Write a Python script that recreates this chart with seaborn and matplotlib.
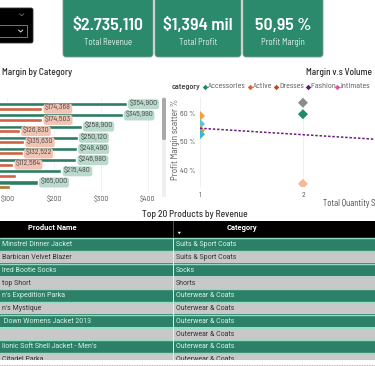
import matplotlib
matplotlib.use("Agg")
import matplotlib.pyplot as plt
import pandas as pd
import seaborn as sns
from matplotlib.patches import FancyBboxPatch, Rectangle, Polygon

W, H = 375, 366

# --- data -------------------------------------------------------------
kpi_values = ["$2.735,110", "$1,394 mil", "50,95 %"]
kpi_labels = ["Total Revenue", "Total Profit", "Profit Margin"]

# bar chart, values in $K (category names are cut off in the picture)
bar_categories = ["Outerwear & Coats", "Jeans", "Sweaters", "Suits & Sport Coats",
                  "Swim", "Sleep & Lounge", "Fashion Hoodies & Sweatshirts", "Shorts"]
revenue_k = [354.9, 345.99, 258.9, 250.12, 248.49, 246.98, 215.48, 165.0]
profit_k = [174.368, 174.503, 126.83, 135.63, 132.522, 112.564, 118.5, 106.0]
profit_label_shown = [True, True, True, True, True, True, False, False]
bar_ticks = [100, 200, 300, 400]

# scatter
scatter_categories = ["Outerwear & Coats", "Pants", "Plus", "Shorts",
                      "Maternity", "Accessories", "Skirts"]
scatter_qty = [1, 1, 1, 1, 2, 2, 2]
scatter_margin = [59.1, 56.3, 54.0, 52.7, 63.7, 59.7, 35.4]
trend_qty = [1, 3]
trend_margin = [54.8, 50.3]
legend_categories = ["Accessories", "Active", "Dresses",
                     "Fashion Hoodies & Sweatshirts", "Intimates"]
scatter_yticks = [40, 50, 60]
scatter_xticks = [1, 2]

# table (product names are clipped on the left in the picture)
table_products = ["Minstrel Dinner Jacket", "Barbican Velvet Blazer", "lred Bootie Socks",
                  "top Short", "n's Expedition Parka", "n's Mystique",
                  " Down Womens Jacket 2013", "", "lionic Soft Shell Jacket - Men's",
                  "Citadel Parka"]
table_categories = ["Suits & Sport Coats", "Suits & Sport Coats", "Socks", "Shorts",
                    "Outerwear & Coats", "Outerwear & Coats", "Outerwear & Coats",
                    "Outerwear & Coats", "Outerwear & Coats", "Outerwear & Coats"]

# --- style ------------------------------------------------------------
GREEN = "#1f8a69"
CARD = "#2b8a6b"
ORANGE = "#e8542a"
BROWN = "#a8762e"
ROW_GREEN = "#2c8067"
ROW_GRAY = "#c8c8c8"
MINT = "#95dcc4"

palette = {
    "Accessories": "#1f8a69", "Active": "#e8622c", "Dresses": "#c4471c",
    "Fashion Hoodies & Sweatshirts": "#5e1a78", "Intimates": "#e05aa8",
    "Outerwear & Coats": "#f2a23c", "Pants": "#55c6d6", "Plus": "#e89a3e",
    "Shorts": "#3fb6c4", "Maternity": "#8c8c8c", "Skirts": "#f4b898",
}

sns.set_style("white")
DIN = ["Barlow Semi Condensed", "Roboto", "DejaVu Sans"]
SEGOE = ["Roboto", "DejaVu Sans"]
plt.rcParams["font.family"] = DIN


def px_rect(x0, y0, x1, y1):
    return [x0 / W, 1 - y1 / H, (x1 - x0) / W, (y1 - y0) / H]


fig = plt.figure(figsize=(W / 100, H / 100), dpi=100)
fig.patch.set_facecolor("white")

# background layer in pixel coordinates
bg = fig.add_axes([0, 0, 1, 1], zorder=0)
bg.set_xlim(0, W)
bg.set_ylim(H, 0)
bg.axis("off")

# dropdown slicer
bg.add_patch(FancyBboxPatch((-6, 8), 39, 35, boxstyle="round,pad=0,rounding_size=2",
                            fc="black", ec="#333333", lw=0.6))
bg.add_patch(Rectangle((-2, 25), 29, 12, fc="none", ec="#8a8a8a", lw=0.6))
bg.plot([19.6, 21.7, 23.8], [13.8, 15.8, 13.8], color="#666666", lw=0.7)
bg.plot([18.6, 20.7, 22.8], [30.0, 32.0, 30.0], color="#dddddd", lw=0.7)

# KPI cards
cards = [(63, 153), (155, 241), (243, 323)]
for (x0, x1), val, lab in zip(cards, kpi_values, kpi_labels):
    bg.add_patch(FancyBboxPatch((x0, -6), x1 - x0, 63,
                                boxstyle="round,pad=0,rounding_size=3",
                                fc=CARD, ec="#7f9a8c", lw=0.6))
    cx = (x0 + x1) / 2
    bg.text(cx, 25, val, color="white", fontsize=12.8, fontweight="semibold",
            ha="center", va="center")
    bg.text(cx, 42.5, lab, color="#e6f3ec", fontsize=6.3, ha="center", va="center")

# titles
bg.text(2, 72.5, "Margin by Category", fontsize=6.7, fontweight="medium",
        color="#2a2a2a", va="center")
bg.text(305.5, 72.5, "Margin v.s Volume", fontsize=6.7, fontweight="medium",
        color="#2a2a2a", va="center")

# scroll bar between the two visuals
bg.add_patch(Rectangle((162, 97), 4, 100, fc="#efefef", ec="none"))
bg.add_patch(FancyBboxPatch((162, 98), 4, 42, boxstyle="round,pad=0,rounding_size=1.5",
                            fc="#a9a9a9", ec="none"))

# scatter legend
bg.text(172, 87, "category", fontsize=5.8, fontweight="semibold", color="#444444", va="center")
legend_x = [205, 249.5, 276, 307.7, 337.3]
for x, cat in zip(legend_x, legend_categories):
    label = cat if len(cat) <= 12 else cat.split()[0] + " ..."
    bg.plot(x, 87, marker="D", ms=2.8, color=palette[cat], mec="none")
    bg.text(x + 3, 87, label, fontsize=5.8, color="#555555", va="center")

# axis captions for scatter
bg.text(175, 139, "Profit Margin scatter %", fontsize=6.5, color="#555555",
        rotation=90, ha="center", va="center")
bg.text(323, 203, "Total Quantity Sold", fontsize=6.2, color="#444444", va="center")

# table title
bg.text(195, 214.5, "Top 20 Products by Revenue", fontsize=6.8, fontweight="medium",
        color="#333333", ha="center", va="center")

# dotted line at the bottom
bg.plot([0, W], [364.5, 364.5], color="#999999", lw=0.6, ls=(0, (1, 1)))

# --- bar chart ----------------------------------------------------------
ax_bar = fig.add_axes(px_rect(0, 97, 160, 192), zorder=2)
ax_bar.patch.set_alpha(0)
df_bar = pd.DataFrame({
    "category": bar_categories * 2,
    "value": revenue_k + profit_k,
    "measure": ["Revenue"] * len(revenue_k) + ["Profit"] * len(profit_k),
})
sns.barplot(data=df_bar, y="category", x="value", hue="measure", orient="h",
            palette={"Revenue": GREEN, "Profit": ORANGE}, width=0.8, gap=0.1,
            legend=False, ax=ax_bar)
ax_bar.containers[1][7].set_facecolor(BROWN)

rev_labels = [f"${v * 1000:,.0f}" for v in revenue_k]
prof_labels = [f"${v * 1000:,.0f}" if s else "" for v, s in zip(profit_k, profit_label_shown)]
ax_bar.bar_label(ax_bar.containers[0], labels=rev_labels, padding=2.0, fontsize=5.7,
                 color="#444444",
                 bbox=dict(boxstyle="round,pad=0.18,rounding_size=0.3", fc="#b9dacd", ec="none"))
ax_bar.bar_label(ax_bar.containers[1], labels=prof_labels, padding=2.0, fontsize=5.7,
                 color="#444444",
                 bbox=dict(boxstyle="round,pad=0.18,rounding_size=0.3", fc="#f1c3b3", ec="none"))

ax_bar.set_xlim(84.4, 426)
ax_bar.set_ylim(7.65, -0.85)
ax_bar.set_xticks(bar_ticks)
ax_bar.set_xticklabels([f"${t}" for t in bar_ticks])
ax_bar.set_yticks([])
ax_bar.set_xlabel("")
ax_bar.set_ylabel("")
ax_bar.tick_params(axis="x", length=0, pad=3, labelsize=5.6, labelcolor="#555555")
ax_bar.grid(axis="x", color="#f0f0f0", lw=0.6)
ax_bar.set_axisbelow(True)
sns.despine(ax=ax_bar, left=True, bottom=True)

# --- scatter --------------------------------------------------------------
ax_sc = fig.add_axes(px_rect(200, 97, 375, 187), zorder=2)
ax_sc.patch.set_alpha(0)
df_sc = pd.DataFrame({"category": scatter_categories, "qty": scatter_qty,
                      "margin": scatter_margin})
sns.scatterplot(data=df_sc, x="qty", y="margin", hue="category", palette=palette,
                marker="D", s=26, edgecolor="none", legend=False, ax=ax_sc)
ax_sc.plot(trend_qty, trend_margin, color="#6b1a7a", lw=1.1, ls=(0, (1.6, 1.2)))
ax_sc.set_xlim(1, 2.70)
ax_sc.set_ylim(34.3, 65.7)
ax_sc.set_xticks(scatter_xticks)
ax_sc.set_yticks(scatter_yticks)
ax_sc.set_yticklabels([f"{t} %" for t in scatter_yticks])
ax_sc.set_xlabel("")
ax_sc.set_ylabel("")
ax_sc.tick_params(length=0, labelsize=5.6, labelcolor="#555555", pad=3.5)
ax_sc.grid(axis="x", color="#ececec", lw=0.6)
ax_sc.set_axisbelow(True)
sns.despine(ax=ax_sc, left=True, bottom=True)

# --- table ------------------------------------------------------------------
ax_tb = fig.add_axes(px_rect(0, 221, W, 360), zorder=1)
ax_tb.set_xlim(0, W)
ax_tb.set_ylim(360, 221)
ax_tb.axis("off")

ROW_H = 12.75
TOP = 238
ax_tb.add_patch(Rectangle((0, 221), W, TOP - 221, fc="black", ec="none"))
ax_tb.text(52, 228.5, "Product Name", color="white", fontsize=5.4, fontweight="bold",
           family=SEGOE, ha="center", va="center")
ax_tb.text(242, 228.5, "Category", color="white", fontsize=5.4, fontweight="bold",
           family=SEGOE, ha="center", va="center")
ax_tb.add_patch(Polygon([(177.6, 231.8), (181.0, 231.8), (179.3, 234.2)], fc="white", ec="none"))

for i, (prod, cat) in enumerate(zip(table_products, table_categories)):
    top = TOP + i * ROW_H
    green = i % 2 == 0
    ax_tb.add_patch(Rectangle((0, top), W, ROW_H, fc=ROW_GREEN if green else ROW_GRAY, ec="none"))
    ax_tb.plot([0, W], [top + 0.5, top + 0.5], color=MINT, lw=1.0)
    tc = "#d6f4e8" if green else "#333333"
    ax_tb.text(2, top + ROW_H / 2 + 0.5, prod, color=tc, fontsize=5.0, family=SEGOE,
               va="center", clip_on=True)
    ax_tb.text(176, top + ROW_H / 2 + 0.5, cat, color=tc, fontsize=5.0, family=SEGOE,
               va="center", clip_on=True)

ax_tb.plot([173.3, 173.3], [221, 238], color="#555555", lw=0.7)
ax_tb.plot([173.3, 173.3], [238, 360], color="#e6f4ee", lw=0.7)

fig.savefig("out.png", dpi=100)
